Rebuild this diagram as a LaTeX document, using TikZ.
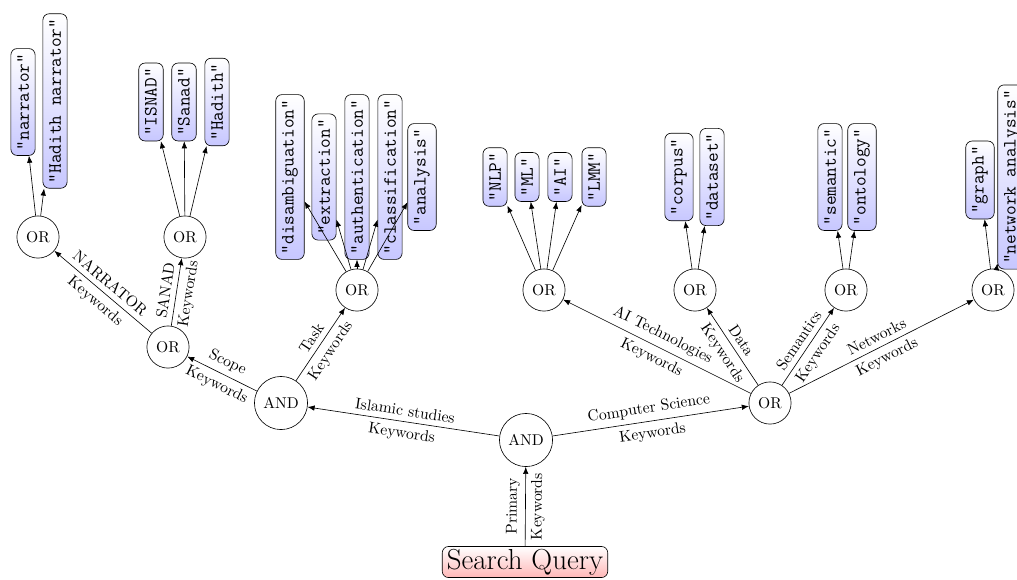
\documentclass[tikz,border=0pt]{standalone}
\usetikzlibrary{arrows.meta}
\newcommand{\lf}[1]{\rotatebox{90}{#1}}
\begin{document}
\begin{tikzpicture}[x=0.64pt,y=-0.64pt,
  op/.style={draw,circle,inner sep=1pt},
  orn/.style={op,minimum size=27pt},
  andn/.style={op,minimum size=34pt},
  leaf/.style={draw,rounded corners=4pt,inner xsep=4pt,inner ysep=3.3pt,
    font=\fontsize{12}{14}\selectfont\ttfamily,bottom color=blue!22,top color=white},
  qbox/.style={draw,rounded corners=4pt,top color=white,bottom color=red!28,
    font=\fontsize{18.5}{22}\selectfont,inner xsep=3pt,inner ysep=1.6pt},
  conn/.style={-{Latex[length=4.5pt,width=3.5pt]}},
  lab/.style={sloped,font=\normalsize}]
\useasboundingbox (0,0) rectangle (1017,579);
% operator nodes
\node[qbox] (q) at (525,562) {Search Query};
\node[andn] (a0) at (526,440) {AND};
\node[andn] (a1) at (281,403) {AND};
\node[orn] (cs) at (770,403) {OR};
\node[orn] (sc) at (168,347) {OR};
\node[orn] (nar) at (38,237) {OR};
\node[orn] (san) at (185,237) {OR};
\node[orn] (task) at (357,290) {OR};
\node[orn] (ai) at (544,290) {OR};
\node[orn] (dat) at (695,290) {OR};
\node[orn] (sem) at (846,290) {OR};
\node[orn] (net) at (993,290) {OR};
% leaves
\node[leaf] (l1) at (23,102) {\lf{"narrator"}};
\node[leaf] (l2) at (55,101) {\lf{"Hadith narrator"}};
\node[leaf] (l3) at (151,102) {\lf{"ISNAD"}};
\node[leaf] (l4) at (184,102) {\lf{"Sanad"}};
\node[leaf] (l5) at (217,102) {\lf{"Hadith"}};
\node[leaf] (t1) at (290,177) {\lf{"disambiguation"}};
\node[leaf] (t2) at (324,177) {\lf{"extraction"}};
\node[leaf] (t3) at (357,177) {\lf{"authentication"}};
\node[leaf] (t4) at (390,177) {\lf{"classification"}};
\node[leaf] (t5) at (422,177) {\lf{"analysis"}};
\node[leaf] (i1) at (495,177) {\lf{"NLP"}};
\node[leaf] (i2) at (527,177) {\lf{"ML"}};
\node[leaf] (i3) at (560,177) {\lf{"AI"}};
\node[leaf] (i4) at (594,177) {\lf{"LMM"}};
\node[leaf] (d1) at (679,177) {\lf{"corpus"}};
\node[leaf] (d2) at (712,177) {\lf{"dataset"}};
\node[leaf] (s1) at (830,177) {\lf{"semantic"}};
\node[leaf] (s2) at (862,177) {\lf{"ontology"}};
\node[leaf] (n1) at (980,180) {\lf{"graph"}};
\node[leaf] (n2) at (1012,177) {\lf{"network analysis"}};
% labelled edges
\draw[conn] (q) -- node[lab,above]{Primary} node[lab,below]{Keywords} (a0);
\draw[conn] (a0) -- node[lab,above]{Islamic studies} node[lab,below]{Keywords} (a1);
\draw[conn] (a0) -- node[lab,above]{Computer Science} node[lab,below]{Keywords} (cs);
\draw[conn] (a1) -- node[lab,above]{Scope} node[lab,below]{Keywords} (sc);
\draw[conn] (a1) -- node[lab,above]{Task} node[lab,below]{Keywords} (task);
\draw[conn] (sc) -- node[lab,above]{NARRATOR} node[lab,below]{Keywords} (nar);
\draw[conn] (sc) -- node[lab,above]{SANAD} node[lab,below]{Keywords} (san);
\draw[conn] (cs) -- node[lab,above]{AI Technologies} node[lab,below]{Keywords} (ai);
\draw[conn] (cs) -- node[lab,above]{Data} node[lab,below]{Keywords} (dat);
\draw[conn] (cs) -- node[lab,above]{Semantics} node[lab,below]{Keywords} (sem);
\draw[conn] (cs) -- node[lab,above]{Networks} node[lab,below]{Keywords} (net);
% leaf edges
\foreach \p/\c in {nar/l1,nar/l2,san/l3,san/l4,san/l5,task/t1,task/t2,task/t3,task/t4,task/t5,
  ai/i1,ai/i2,ai/i3,ai/i4,dat/d1,dat/d2,sem/s1,sem/s2,net/n1,net/n2}
  \draw[conn] (\p) -- (\c);
\end{tikzpicture}
\end{document}
